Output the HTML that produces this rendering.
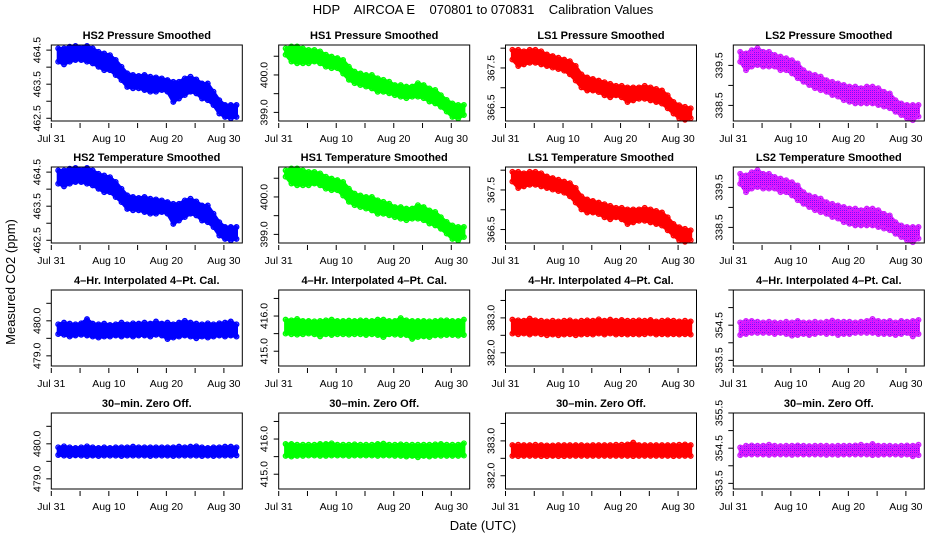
<!DOCTYPE html>
<html><head><meta charset="utf-8">
<style>
html,body{margin:0;padding:0;background:#fff;}
svg{display:block;font-family:"Liberation Sans",Arial,sans-serif;}
</style></head>
<body>
<svg id="chart" width="936" height="540" viewBox="0 0 936 540" xmlns="http://www.w3.org/2000/svg">
<defs>
<pattern id="checker" width="2" height="2" patternUnits="userSpaceOnUse">
<rect width="2" height="2" fill="#ff00ff"/><rect width="1" height="1" fill="#6020ff"/><rect x="1" y="1" width="1" height="1" fill="#c030ff"/>
</pattern>
</defs>
<text x="483" y="14" font-size="13" text-anchor="middle" xml:space="preserve">HDP    AIRCOA E    070801 to 070831    Calibration Values</text>
<text transform="translate(15,282) rotate(-90)" font-size="13" text-anchor="middle">Measured CO2 (ppm)</text>
<text x="483" y="530" font-size="13" text-anchor="middle">Date (UTC)</text>
<g id="panels"></g>
</svg>
<script>
const days = [1.2,2.2,3.2,4.2,5.2,6.2,7.2,8.2,9.2,10.2,11.2,12.2,13.2,14.2,15.2,16.2,17.2,18.2,19.2,20.2,21.2,22.2,23.2,24.2,25.2,26.2,27.2,28.2,29.2,30.2,31.2,32.2];
const xTickDays = [0,5,10,15,20,25,30];
const xTickLabels = ["Jul 31","","Aug 10","","Aug 20","","Aug 30"];
const titles = ["HS2 Pressure Smoothed","HS1 Pressure Smoothed","LS1 Pressure Smoothed","LS2 Pressure Smoothed",
"HS2 Temperature Smoothed","HS1 Temperature Smoothed","LS1 Temperature Smoothed","LS2 Temperature Smoothed",
"4\u2013Hr. Interpolated 4\u2013Pt. Cal.","4\u2013Hr. Interpolated 4\u2013Pt. Cal.","4\u2013Hr. Interpolated 4\u2013Pt. Cal.","4\u2013Hr. Interpolated 4\u2013Pt. Cal.",
"30\u2013min. Zero Off.","30\u2013min. Zero Off.","30\u2013min. Zero Off.","30\u2013min. Zero Off."];

const hs2Hi = [464.55,464.55,464.60,464.62,464.58,464.62,464.55,464.45,464.40,464.35,464.21,464.01,463.82,463.77,463.74,463.77,463.72,463.70,463.67,463.62,463.57,463.57,463.67,463.72,463.64,463.52,463.52,463.28,463.03,462.89,462.89,462.89];
const hs2Lo = [464.16,464.08,464.16,464.21,464.21,464.16,464.11,464.01,463.91,463.91,463.77,463.62,463.42,463.38,463.38,463.33,463.28,463.28,463.33,463.28,462.98,463.08,463.18,463.28,463.23,463.08,463.03,462.89,462.64,462.54,462.50,462.54];
const hs1Hi = [400.71,400.76,400.76,400.71,400.67,400.67,400.63,400.54,400.49,400.45,400.40,400.22,400.09,400.04,400.00,400.00,399.91,399.87,399.82,399.73,399.73,399.69,399.69,399.78,399.73,399.64,399.60,399.46,399.33,399.24,399.20,399.20];
const hs1Lo = [400.54,400.36,400.31,400.31,400.31,400.36,400.31,400.22,400.18,400.18,400.04,399.87,399.78,399.73,399.69,399.64,399.55,399.55,399.51,399.46,399.42,399.38,399.42,399.42,399.38,399.29,399.24,399.15,399.02,398.88,398.84,398.93];
const ls1Hi = [367.96,367.96,367.92,367.96,367.96,367.92,367.84,367.80,367.76,367.71,367.67,367.55,367.34,367.26,367.22,367.18,367.14,367.10,367.05,367.05,367.01,367.01,367.01,367.05,367.01,366.97,366.93,366.81,366.64,366.56,366.52,366.48];
const ls1Lo = [367.71,367.55,367.59,367.63,367.63,367.59,367.55,367.51,367.47,367.43,367.34,367.18,367.01,366.93,366.93,366.89,366.81,366.76,366.81,366.76,366.64,366.68,366.72,366.72,366.68,366.64,366.60,366.48,366.35,366.23,366.19,366.23];
const ls2Hi = [339.84,339.80,339.88,339.93,339.84,339.84,339.76,339.72,339.68,339.63,339.55,339.38,339.30,339.26,339.22,339.13,339.09,339.05,339.01,338.97,338.97,338.93,338.97,338.97,338.93,338.84,338.80,338.63,338.55,338.51,338.51,338.51];
const ls2Lo = [339.59,339.38,339.47,339.51,339.47,339.47,339.47,339.38,339.38,339.30,339.18,339.09,339.01,338.93,338.88,338.84,338.76,338.72,338.63,338.59,338.55,338.55,338.55,338.55,338.51,338.47,338.43,338.34,338.26,338.18,338.13,338.22];

const hs2CalHi = [479.90,479.95,479.92,479.90,479.93,480.05,479.92,479.90,479.92,479.88,479.90,479.95,479.90,479.93,479.92,479.95,479.92,479.98,479.92,479.95,479.90,479.95,480.00,479.95,479.92,479.90,479.93,479.90,479.93,479.95,479.98,479.90];
const hs2CalLo = [479.62,479.60,479.55,479.58,479.60,479.58,479.55,479.52,479.55,479.55,479.58,479.55,479.58,479.55,479.58,479.58,479.55,479.60,479.58,479.48,479.52,479.55,479.58,479.55,479.50,479.55,479.52,479.55,479.58,479.55,479.58,479.55];
const hs1CalHi = [415.90,415.88,415.92,415.86,415.86,415.85,415.86,415.88,415.90,415.86,415.86,415.87,415.86,415.88,415.87,415.86,415.90,415.90,415.86,415.86,415.94,415.88,415.86,415.86,415.86,415.85,415.86,415.88,415.88,415.86,415.86,415.90];
const hs1CalLo = [415.50,415.48,415.47,415.48,415.50,415.48,415.42,415.48,415.46,415.48,415.48,415.47,415.48,415.48,415.46,415.48,415.46,415.40,415.48,415.47,415.46,415.46,415.35,415.40,415.42,415.40,415.45,415.44,415.46,415.46,415.44,415.46];
const ls1CalHi = [382.95,382.93,382.92,382.98,382.93,382.92,382.90,382.92,382.90,382.92,382.93,382.90,382.92,382.93,382.92,382.96,382.92,382.95,382.92,382.94,382.92,382.92,382.93,382.92,382.94,382.90,382.92,382.93,382.92,382.90,382.92,382.90];
const ls1CalLo = [382.55,382.53,382.55,382.52,382.55,382.53,382.50,382.52,382.50,382.52,382.53,382.50,382.52,382.53,382.52,382.55,382.52,382.55,382.52,382.53,382.52,382.53,382.52,382.53,382.55,382.52,382.53,382.52,382.53,382.52,382.53,382.52];
const ls2CalHi = [354.58,354.62,354.62,354.60,354.58,354.60,354.58,354.57,354.60,354.58,354.62,354.58,354.58,354.60,354.58,354.60,354.63,354.60,354.60,354.60,354.58,354.60,354.62,354.68,354.62,354.60,354.62,354.58,354.62,354.60,354.62,354.65];
const ls2CalLo = [354.22,354.25,354.28,354.28,354.28,354.28,354.25,354.28,354.25,354.20,354.22,354.25,354.22,354.25,354.28,354.25,354.27,354.22,354.25,354.25,354.28,354.28,354.28,354.28,354.25,354.25,354.25,354.22,354.25,354.28,354.18,354.25];

const hs2ZeroHi = [479.90,479.93,479.90,479.88,479.90,479.93,479.90,479.88,479.90,479.88,479.90,479.90,479.90,479.92,479.90,479.90,479.90,479.90,479.90,479.90,479.90,479.92,479.90,479.92,479.93,479.90,479.88,479.90,479.90,479.92,479.92,479.90];
const hs2ZeroLo = [479.68,479.66,479.65,479.67,479.66,479.65,479.66,479.65,479.66,479.66,479.66,479.65,479.66,479.66,479.66,479.66,479.65,479.66,479.66,479.66,479.65,479.66,479.66,479.66,479.66,479.65,479.66,479.65,479.66,479.66,479.66,479.67];
const hs1ZeroHi = [415.86,415.86,415.84,415.84,415.84,415.84,415.86,415.86,415.88,415.84,415.84,415.84,415.85,415.84,415.84,415.84,415.86,415.87,415.84,415.84,415.85,415.84,415.84,415.84,415.84,415.84,415.85,415.86,415.84,415.84,415.84,415.88];
const hs1ZeroLo = [415.52,415.50,415.52,415.52,415.53,415.53,415.52,415.52,415.53,415.53,415.53,415.52,415.53,415.53,415.53,415.53,415.52,415.53,415.53,415.52,415.52,415.50,415.52,415.48,415.52,415.50,415.52,415.52,415.52,415.52,415.52,415.53];
const ls1ZeroHi = [382.88,382.89,382.88,382.88,382.89,382.88,382.87,382.87,382.88,382.88,382.88,382.88,382.88,382.87,382.88,382.88,382.88,382.88,382.89,382.89,382.90,382.95,382.88,382.88,382.88,382.88,382.88,382.88,382.88,382.89,382.90,382.88];
const ls1ZeroLo = [382.57,382.56,382.57,382.57,382.57,382.56,382.56,382.57,382.56,382.56,382.57,382.57,382.57,382.57,382.57,382.57,382.57,382.57,382.57,382.57,382.57,382.56,382.57,382.57,382.57,382.57,382.57,382.57,382.56,382.57,382.57,382.57];
const ls2ZeroHi = [354.52,354.57,354.58,354.57,354.57,354.60,354.57,354.56,354.57,354.57,354.58,354.57,354.56,354.57,354.57,354.57,354.56,354.57,354.57,354.57,354.58,354.60,354.57,354.62,354.57,354.57,354.57,354.56,354.57,354.58,354.57,354.60];
const ls2ZeroLo = [354.30,354.32,354.32,354.32,354.32,354.31,354.32,354.32,354.32,354.31,354.32,354.32,354.32,354.32,354.32,354.31,354.32,354.31,354.32,354.32,354.32,354.32,354.32,354.30,354.31,354.32,354.32,354.32,354.31,354.32,354.27,354.30];

const yRanges = [[462.42,464.65],[398.77,400.80],[366.16,368.08],[338.11,340.01],[478.71,480.88],[414.58,416.74],[381.62,383.80],[353.34,355.50]];
const yTicks = [[462.5,463.0,463.5,464.0,464.5],[399.0,399.5,400.0,400.5],[366.5,367.0,367.5,368.0],[338.5,339.0,339.5],[479.0,479.5,480.0,480.5],[415.0,415.5,416.0,416.5],[382.0,382.5,383.0,383.5],[353.5,354.0,354.5,355.0,355.5]];
const yLabels = [[462.5,463.5,464.5],[399.0,400.0],[366.5,367.5],[338.5,339.5],[479.0,480.0],[415.0,416.0],[382.0,383.0],[353.5,354.5]];
const yLabelsZeroLS2 = [353.5,354.5,355.5];

const NS = "http://www.w3.org/2000/svg";
const panelLefts = [51.3,278.7,505.5,733.3];
const panelTops = [45,167,290,413];
const PW = 191, PH = 76, XMAX = 33.2;
const colors = ["#0000ff","#00ff00","#ff0000","url(#checker)"];
const strokes = ["#0000ff","#00ff00","#ff0000","#ff00ff"];
const seriesHi = [hs2Hi,hs1Hi,ls1Hi,ls2Hi,hs2Hi,hs1Hi,ls1Hi,ls2Hi,hs2CalHi,hs1CalHi,ls1CalHi,ls2CalHi,hs2ZeroHi,hs1ZeroHi,ls1ZeroHi,ls2ZeroHi];
const seriesLo = [hs2Lo,hs1Lo,ls1Lo,ls2Lo,hs2Lo,hs1Lo,ls1Lo,ls2Lo,hs2CalLo,hs1CalLo,ls1CalLo,ls2CalLo,hs2ZeroLo,hs1ZeroLo,ls1ZeroLo,ls2ZeroLo];

const root = document.getElementById('panels');
function mk(tag, attrs, parent){const e=document.createElementNS(NS,tag);for(const k in attrs)e.setAttribute(k,attrs[k]);parent.appendChild(e);return e;}

for(let p=0;p<16;p++){
  const row=Math.floor(p/4), col=p%4;
  const L=panelLefts[col], T=panelTops[row];
  const rIdx = (row<2?0:4)+col;
  const [y0,y1]=yRanges[rIdx];
  const xS=d=>L+d/XMAX*PW;
  const yS=v=>T+PH-(v-y0)/(y1-y0)*PH;
  const g=mk('g',{},root);
  
  
  const t=mk('text',{x:L+PW/2,y:T-6,'font-size':'11','font-weight':'bold','text-anchor':'middle'},g);
  
  
  t.textContent=titles[p];
  const hi=seriesHi[p], lo=seriesLo[p];
  const sg=mk('g',{},g);
  
  
  let pts=[];
  for(let i=0;i<days.length;i++)pts.push(xS(days[i]).toFixed(1)+','+yS(hi[i]).toFixed(1));
  for(let i=days.length-1;i>=0;i--)pts.push(xS(days[i]).toFixed(1)+','+yS(lo[i]).toFixed(1));
  const poly=mk('polygon',{points:pts.join(' '),fill:colors[col],stroke:colors[col],'stroke-width':'3','stroke-linejoin':'round'},sg);
  
  
  for(let i=0;i<days.length;i++){
    for(const v of [hi[i],lo[i]]){
      const c=mk('circle',{cx:xS(days[i]).toFixed(1),cy:yS(v).toFixed(1),r:'2.3',fill:'none',stroke:col===3?'#d020ff':strokes[col],'stroke-width':'1.3'},sg);
      
      
    }
  }
  const box=mk('rect',{x:L,y:T,width:PW,height:PH,fill:'none',stroke:'#000','stroke-width':'1'},g);
  
  
  const xa=mk('g',{},g);
  
  
  for(let i=0;i<xTickDays.length;i++){
    const x=xS(xTickDays[i]);
    mk('line',{x1:x,x2:x,y1:T+PH+2,y2:T+PH+7,stroke:'#000','stroke-width':'1'},xa);
    if(xTickLabels[i]){
      const tl=mk('text',{x:x,y:T+PH+21,'font-size':'10.5','text-anchor':'middle'},xa);
      
      
      tl.textContent=xTickLabels[i];
    }
  }
  const ya=mk('g',{},g);
  
  
  for(const v of yTicks[rIdx]){
    const y=yS(v);
    if(y<T-1||y>T+PH+1)continue;
    mk('line',{x1:L-5,x2:L,y1:y,y2:y,stroke:'#000','stroke-width':'1'},ya);
  }
  const labs=(p===15)?yLabelsZeroLS2:yLabels[rIdx];
  for(const v of labs){
    const y=yS(v);
    const tl=mk('text',{transform:'translate('+(L-11)+','+y.toFixed(1)+') rotate(-90)','font-size':'10.5','text-anchor':'middle'},ya);
    
    
    tl.textContent=v.toFixed(1);
  }
}
</script>
</body></html>
